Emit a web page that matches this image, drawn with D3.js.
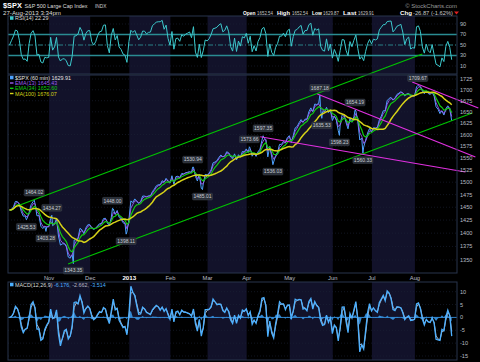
<!DOCTYPE html>
<html>
<head>
<meta charset="utf-8">
<script src="https://cdnjs.cloudflare.com/ajax/libs/d3/7.8.5/d3.min.js"></script>
<style>
    body { margin: 0; background: #000; }
    svg { display: block; font-family: "Liberation Sans", Arial, sans-serif; }
</style>
</head>
<body>
<svg id="drawChart" width="480" height="362"></svg>
<script>
//Months on the x axis and how many trading days each one has in view
let monthNames = ["Oct", "Nov", "Dec", "2013", "Feb", "Mar", "Apr", "May", "Jun", "Jul", "Aug"];
let monthDays = [21, 21, 20, 21, 19, 20, 22, 22, 20, 22, 19];

//$SPX closes, one per trading day (Oct 1 2012 .. Aug 27 2013)
let closes = [
    1444.49, 1445.75, 1450.99, 1461.40, 1460.93, 1455.88, 1441.48, 1432.56, 1432.84, 1428.59,
    1440.13, 1454.92, 1460.91, 1457.34, 1433.19, 1433.82, 1413.11, 1408.75, 1412.97, 1411.94, 1412.16,
    1427.59, 1414.20, 1417.26, 1428.39, 1394.53, 1377.51, 1379.85, 1380.03, 1374.53, 1355.49,
    1353.33, 1359.88, 1386.89, 1387.81, 1391.03, 1409.15, 1406.29, 1398.94, 1409.93, 1415.95, 1416.18,
    1409.46, 1407.05, 1409.28, 1413.94, 1418.07, 1418.55, 1427.84, 1428.48, 1419.45, 1413.58,
    1430.36, 1446.79, 1435.81, 1443.69, 1430.15, 1426.66, 1419.83, 1418.10, 1402.43, 1426.19,
    1462.42, 1459.37, 1466.47, 1461.89, 1457.15, 1461.02, 1472.12, 1472.05, 1470.68, 1472.34,
    1472.63, 1480.94, 1485.98, 1492.56, 1494.81, 1494.82, 1502.96, 1500.18, 1507.84, 1501.96, 1498.11,
    1513.17, 1495.71, 1511.29, 1512.12, 1509.39, 1517.93, 1517.01, 1519.43, 1520.33, 1521.38,
    1519.79, 1530.94, 1511.95, 1502.42, 1515.60, 1487.85, 1496.94, 1515.99, 1514.68,
    1518.20, 1525.20, 1539.79, 1541.46, 1544.26, 1551.18, 1556.22, 1552.48, 1554.52, 1563.23,
    1560.70, 1552.10, 1548.34, 1558.71, 1545.80, 1556.89, 1551.69, 1563.77, 1562.85, 1569.19,
    1562.17, 1570.25, 1553.69, 1559.98, 1553.28, 1563.07, 1568.61, 1587.73, 1593.37, 1588.85,
    1552.36, 1574.57, 1552.01, 1541.61, 1555.25, 1562.50, 1578.78, 1578.79, 1585.16, 1582.24, 1593.61, 1597.57,
    1582.70, 1597.59, 1614.42, 1617.50, 1625.96, 1632.69, 1626.67, 1633.70, 1633.77, 1650.34,
    1658.78, 1650.47, 1667.47, 1666.29, 1669.16, 1655.35, 1650.51, 1649.60, 1660.06, 1648.36, 1654.41, 1630.74,
    1640.42, 1631.38, 1608.90, 1622.56, 1643.38, 1642.81, 1626.13, 1612.52, 1636.36, 1626.73,
    1639.04, 1651.81, 1628.93, 1588.19, 1592.43, 1573.09, 1588.03, 1603.26, 1613.20, 1606.28,
    1614.96, 1614.08, 1615.41, 1631.89, 1640.46, 1652.32, 1652.62, 1675.02, 1680.19, 1682.50,
    1676.26, 1680.91, 1689.37, 1692.09, 1695.53, 1692.39, 1685.94, 1690.25, 1691.65, 1685.33, 1685.96, 1685.73,
    1706.87, 1709.67, 1707.14, 1697.37, 1690.91, 1697.48, 1691.42, 1689.47, 1694.16, 1685.39,
    1661.32, 1655.83, 1646.06, 1652.35, 1642.80, 1656.96, 1663.50, 1656.78, 1629.91
];

//Labelled swing highs / lows (trading day index, price, label side)
let pivotIdx = [9, 13, 19, 22, 33, 53, 60, 94, 99, 123, 130, 135, 159, 160, 169, 177, 181, 209];
let pivotPrice = [1425.53, 1464.02, 1403.28, 1434.27, 1343.35, 1448.00, 1398.11, 1530.94, 1485.01,
    1573.66, 1597.35, 1536.03, 1687.18, 1635.53, 1598.23, 1654.19, 1560.33, 1709.67];
let pivotSide = ["dn", "up", "dn", "up", "dn", "up", "dn", "up", "dn",
    "up", "up", "dn", "up", "dn", "dn", "up", "dn", "up"];

//Trend lines drawn on the chart (day index / price at both ends)
let lineFromIdx = [6.1, 30.7, 128.9, 158.1, 206.6];
let lineFromPrice = [1454.5, 1342.7, 1595.3, 1690.3, 1718.0];
let lineToIdx = [211.8, 237.3, 233.8, 238.9, 240.4];
let lineToPrice = [1784.4, 1647.4, 1520.9, 1552.2, 1658.6];
let lineColor = ["#00c400", "#00c400", "#e030e0", "#e030e0", "#e030e0"];

//Tick labels
let priceTicks = [1350, 1375, 1400, 1425, 1450, 1475, 1500, 1525, 1550, 1575, 1600, 1625, 1650, 1675, 1700, 1725];
let rsiTicks = [10, 30, 50, 70, 90];
let macdTicks = [10, 5, 0, -5, -10, -15];

//Panel layout
let plotL = 8, plotR = 457;
let rsiTop = 16, rsiBot = 74;
let mainTop = 75, mainBot = 273;
let macdTop = 282, macdBot = 360;
let frameColor = "#28344c";
let shadeColor = "#12122a";

let svg = d3.select("#drawChart");
svg.append("rect").attr("width", 480).attr("height", 362).attr("fill", "#000");

//Indicators are on 60 min bars, ~7 bars per trading day
let perDay = 7;
let dayAlpha = n => 1 - Math.pow(1 - 2 / (n + 1), perDay);
function emaSeries(vals, alpha) {
    let out = [], prev = vals[0];
    vals.forEach((v, i) => {
        prev = i === 0 ? v : alpha * v + (1 - alpha) * prev;
        out.push(prev);
    });
    return out;
}
let ema13 = emaSeries(closes, dayAlpha(13));
let ema34 = emaSeries(closes, dayAlpha(34));
let maWin = Math.round(100 / perDay);
let ma100 = closes.map((v, i) => d3.mean(closes.slice(Math.max(0, i - maWin + 1), i + 1)));

//RSI(14) with Wilder smoothing (daily closes only, so damp it a bit)
let wAlpha = 1 - Math.pow(1 - 1 / 14, 4);
let avgG = 0, avgL = 0;
let rsi = closes.map((v, i) => {
    if (i === 0) return 50;
    let ch = v - closes[i - 1];
    let g = Math.max(ch, 0), l = Math.max(-ch, 0);
    if (i === 1) { avgG = g + 3; avgL = l + 3; }
    else { avgG = wAlpha * g + (1 - wAlpha) * avgG; avgL = wAlpha * l + (1 - wAlpha) * avgL; }
    return 100 - 100 / (1 + avgG / avgL);
});

//MACD(12,26,9)
let fast = emaSeries(closes, dayAlpha(12));
let slow = emaSeries(closes, dayAlpha(26));
let macd = fast.map((v, i) => v - slow[i]);
let signal = emaSeries(macd, dayAlpha(9));
let hist = macd.map((v, i) => v - signal[i]);

//Scales
let x = d3.scaleLinear().domain([0, 229.5]).range([plotL, plotR]);
let y = d3.scaleLog().domain([1350, 1725]).range([260, 79]);
let yRsi = d3.scaleLinear().domain([10, 90]).range([66, 24]);
let yMacd = d3.scaleLinear().domain([-15, 10]).range([356, 291.7]);
let dayX = i => x(i + 0.8);

//Month boundaries
let monthStart = [];
monthDays.reduce((acc, n) => { monthStart.push(acc); return acc + n; }, 0);
let monthEnd = monthStart.map((s, i) => i === monthDays.length - 1 ? 229.5 : s + monthDays[i]);

//Clip paths for each panel
let defs = svg.append("defs");
[["clipRsi", rsiTop, rsiBot], ["clipMain", mainTop, mainBot], ["clipMacd", macdTop, macdBot]].forEach(c => {
    defs.append("clipPath").attr("id", c[0]).append("rect")
        .attr("x", plotL).attr("y", c[1]).attr("width", plotR - plotL).attr("height", c[2] - c[1]);
});

//Panel backgrounds with alternate month shading and dotted grid
let panels = [[rsiTop, rsiBot, rsiTicks.map(yRsi)], [mainTop, mainBot, priceTicks.map(y)], [macdTop, macdBot, macdTicks.map(yMacd)]];
panels.forEach(p => {
    let g = svg.append("g");
    g.selectAll("rect.shade")
        .data(monthNames.map((m, i) => i).filter(i => i % 2 === 1))
        .enter().append("rect")
        .attr("x", i => x(monthStart[i]))
        .attr("width", i => x(monthEnd[i]) - x(monthStart[i]))
        .attr("y", p[0]).attr("height", p[1] - p[0])
        .attr("fill", shadeColor);
    g.selectAll("line.grid")
        .data(p[2])
        .enter().append("line")
        .attr("x1", plotL).attr("x2", plotR)
        .attr("y1", d => d).attr("y2", d => d)
        .attr("stroke", "#1d2438").attr("stroke-width", 0.6)
        .attr("stroke-dasharray", "1,2");
});

//RSI panel
let rsiG = svg.append("g");
rsiG.selectAll("line.band")
    .data([70, 30])
    .enter().append("line")
    .attr("x1", plotL).attr("x2", plotR)
    .attr("y1", d => yRsi(d)).attr("y2", d => yRsi(d))
    .attr("stroke", "#2a8c92").attr("stroke-width", 1.3);
rsiG.append("line")
    .attr("x1", plotL).attr("x2", plotR)
    .attr("y1", yRsi(50)).attr("y2", yRsi(50))
    .attr("stroke", "#2a8c92").attr("stroke-width", 0.9)
    .attr("stroke-dasharray", "5,2,1,2");
rsiG.append("path")
    .datum(rsi)
    .attr("clip-path", "url(#clipRsi)")
    .attr("fill", "none")
    .attr("stroke", "#3cc8cc")
    .attr("stroke-width", 1)
    .attr("d", d3.line().x((d, i) => dayX(i)).y(d => yRsi(d)));

//Price line: daily closes plus the intraday swing points
let pricePts = closes.map((v, i) => [i + 0.8, v])
    .concat(pivotIdx.map((d, i) => [d + 0.4, pivotPrice[i]]))
    .sort((a, b) => a[0] - b[0]);
let mainG = svg.append("g").attr("clip-path", "url(#clipMain)");
mainG.append("path")
    .datum(pricePts)
    .attr("fill", "none")
    .attr("stroke", "#4da2ff")
    .attr("stroke-width", 1)
    .attr("d", d3.line().x(d => x(d[0])).y(d => y(d[1])));
//Moving averages
[[ema13, "#9b5cf0", 0.9], [ema34, "#12c812", 1.2], [ma100, "#d8d418", 1.5]].forEach(m => {
    mainG.append("path")
        .datum(m[0])
        .attr("fill", "none")
        .attr("stroke", m[1])
        .attr("stroke-width", m[2])
        .attr("d", d3.line().x((d, i) => dayX(i)).y(d => y(d)));
});

//Trend lines (not clipped, they run over the axis like the original)
svg.append("g").selectAll("line.trend")
    .data(lineColor)
    .enter().append("line")
    .attr("x1", (d, i) => x(lineFromIdx[i])).attr("y1", (d, i) => y(lineFromPrice[i]))
    .attr("x2", (d, i) => x(lineToIdx[i])).attr("y2", (d, i) => y(lineToPrice[i]))
    .attr("stroke", d => d)
    .attr("stroke-width", 1.2);

//Swing labels
let fmt = d3.format(".2f");
let pivG = svg.append("g").selectAll("g")
    .data(pivotIdx)
    .enter().append("g")
    .attr("transform", (d, i) => {
        let py = y(pivotPrice[i]) + (pivotSide[i] === "up" ? -7.5 : 7);
        return "translate(" + x(d + 0.4) + "," + py + ")";
    });
pivG.append("rect")
    .attr("x", -10).attr("y", -3.4).attr("width", 20).attr("height", 6.8)
    .attr("rx", 1)
    .attr("fill", "#2a2f38").attr("stroke", "#454b55").attr("stroke-width", 0.4);
pivG.append("text")
    .attr("text-anchor", "middle").attr("dy", "1.8")
    .attr("font-size", 5).attr("fill", "#c8ccd4")
    .text((d, i) => fmt(pivotPrice[i]));

//MACD panel
let macdG = svg.append("g").attr("clip-path", "url(#clipMacd)");
macdG.append("line")
    .attr("x1", plotL).attr("x2", plotR)
    .attr("y1", yMacd(0)).attr("y2", yMacd(0))
    .attr("stroke", "#3a9ef2").attr("stroke-width", 0.8);
macdG.append("path")
    .datum(hist)
    .attr("fill", "#3a9ef2").attr("fill-opacity", 0.85)
    .attr("d", d3.area().x((d, i) => dayX(i)).y0(yMacd(0)).y1(d => yMacd(d)));
macdG.append("path")
    .datum(signal)
    .attr("fill", "none").attr("stroke", "#a9b2c4").attr("stroke-width", 1)
    .attr("d", d3.line().x((d, i) => dayX(i)).y(d => yMacd(d)));
macdG.append("path")
    .datum(macd)
    .attr("fill", "none").attr("stroke", "#4cb0ff").attr("stroke-width", 1.3)
    .attr("d", d3.line().x((d, i) => dayX(i)).y(d => yMacd(d)));

//Panel frames
[[rsiTop, rsiBot], [mainTop, mainBot], [macdTop, macdBot]].forEach(p => {
    svg.append("rect")
        .attr("x", plotL).attr("y", p[0]).attr("width", plotR - plotL).attr("height", p[1] - p[0])
        .attr("fill", "none").attr("stroke", frameColor).attr("stroke-width", 1);
});

//Right hand axis labels
let axisLabels = (ticks, sc) => {
    svg.append("g").selectAll("text")
        .data(ticks)
        .enter().append("text")
        .attr("x", 460).attr("y", d => sc(d)).attr("dy", "0.35em")
        .attr("font-size", 5.6).attr("fill", "#b8bcc4")
        .text(d => d);
};
axisLabels(rsiTicks, yRsi);
axisLabels(priceTicks, y);
axisLabels(macdTicks, yMacd);

//Month labels
svg.append("g").selectAll("text")
    .data(monthNames.map((m, i) => i).filter(i => i > 0))
    .enter().append("text")
    .attr("x", i => x(monthStart[i])).attr("y", 280)
    .attr("text-anchor", "middle")
    .attr("font-size", i => monthNames[i] === "2013" ? 6.2 : 5.8)
    .attr("font-weight", i => monthNames[i] === "2013" ? "bold" : "normal")
    .attr("fill", i => monthNames[i] === "2013" ? "#fff" : "#b8bcc4")
    .text(i => monthNames[i]);

//Header
let head = svg.append("g");
head.append("text").attr("x", 3).attr("y", 8).attr("font-size", 7.4).attr("font-weight", "bold").attr("fill", "#fff").text("$SPX");
head.append("text").attr("x", 24.5).attr("y", 8).attr("font-size", 6.2).attr("fill", "#dcdcdc")
    .attr("textLength", 63).attr("lengthAdjust", "spacingAndGlyphs").text("S&P 500 Large Cap Index");
head.append("text").attr("x", 95).attr("y", 8).attr("font-size", 4.8).attr("fill", "#cfcfcf").text("INDX");
head.append("text").attr("x", 3).attr("y", 14.6).attr("font-size", 6).attr("fill", "#dcdcdc")
    .attr("textLength", 58).attr("lengthAdjust", "spacingAndGlyphs").text("27-Aug-2013 3:34pm");
head.append("text").attr("x", 457).attr("y", 8).attr("text-anchor", "end").attr("font-size", 6).attr("fill", "#9a9a9a").text("© StockCharts.com");
let quoteX = [243, 257, 277, 292, 312, 323, 343, 358, 400, 413];
let quoteW = [12.5, 16, 13, 16, 10, 16, 13.5, 16, 12, 40];
let quoteTxt = ["Open", "1652.54", "High", "1652.54", "Low", "1629.87", "Last", "1629.91", "Chg", "-26.87 (-1.62%)"];
head.selectAll("text.quote")
    .data(quoteTxt)
    .enter().append("text")
    .attr("x", (d, i) => quoteX[i]).attr("y", 15)
    .attr("font-size", 5.8)
    .attr("textLength", (d, i) => quoteW[i]).attr("lengthAdjust", "spacingAndGlyphs")
    .attr("font-weight", (d, i) => i % 2 === 0 ? "bold" : "normal")
    .attr("fill", (d, i) => i % 2 === 0 ? "#fff" : "#c8c8c8")
    .text(d => d);
head.append("path").attr("d", "M454,11.5 L459,11.5 L456.5,14.5 Z").attr("fill", "#e02020");

//Legends
let legend = (lx, ly, color, txt, txtColor, box) => {
    if (box) {
        svg.append("rect").attr("x", lx).attr("y", ly - 2.2).attr("width", 3.5).attr("height", 3.5).attr("fill", color);
    } else {
        svg.append("line").attr("x1", lx).attr("x2", lx + 3.5).attr("y1", ly - 0.5).attr("y2", ly - 0.5)
            .attr("stroke", color).attr("stroke-width", 1.4);
    }
    return svg.append("text").attr("x", lx + 5).attr("y", ly + 1.6).attr("font-size", 5.4).attr("fill", txtColor).text(txt);
};
legend(10, 18.5, "#3cc8cc", "RSI(14) 22.29", "#dcdcdc", true);
legend(10, 78, "#4da2ff", "$SPX (60 min) 1629.91", "#e8e8e8", true);
legend(10, 83.5, "#9b5cf0", "EMA(13) 1645.43", "#9b5cf0", false);
legend(10, 88.8, "#12c812", "EMA(34) 1652.60", "#12c812", false);
legend(10, 94, "#d8d418", "MA(100) 1676.07", "#d8d418", false);
let mLeg = legend(10, 285, "#4cb0ff", "MACD(12,26,9) ", "#dcdcdc", true);
mLeg.append("tspan").attr("fill", "#4cb0ff").text("-6.176, ");
mLeg.append("tspan").attr("fill", "#b8bcc4").text("-2.662, ");
mLeg.append("tspan").attr("fill", "#4cb0ff").text("-3.514");
</script>
</body>
</html>
